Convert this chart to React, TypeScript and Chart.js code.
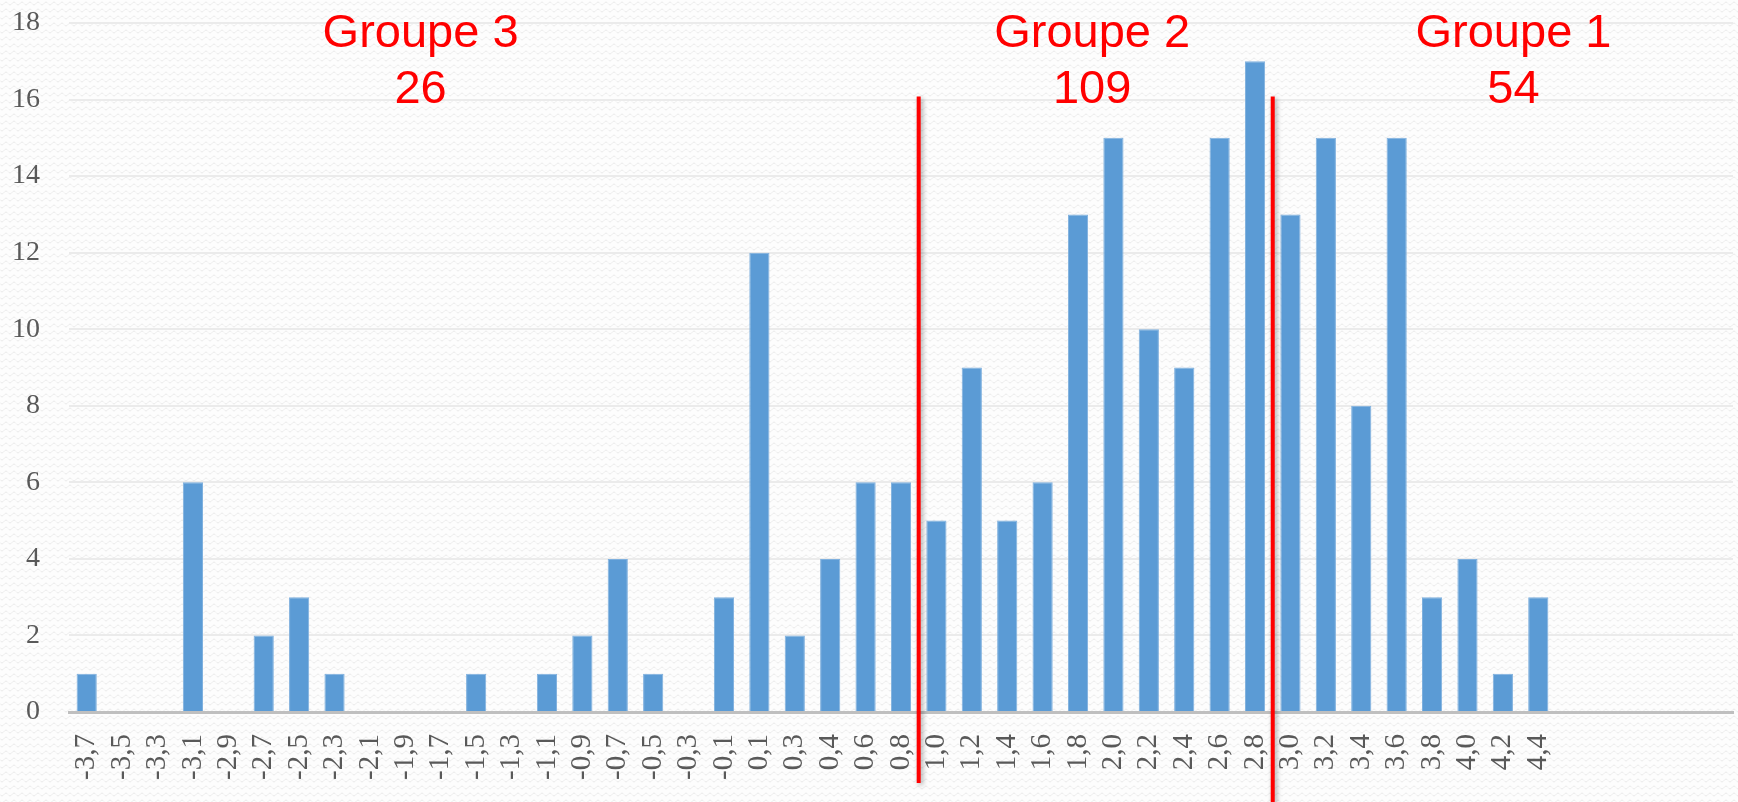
import React, { useEffect, useRef } from "react";
import { Chart, registerables } from "chart.js";

Chart.register(...registerables);

const categories = [
  "-3,7", "-3,5", "-3,3", "-3,1", "-2,9", "-2,7", "-2,5", "-2,3", "-2,1", "-1,9",
  "-1,7", "-1,5", "-1,3", "-1,1", "-0,9", "-0,7", "-0,5", "-0,3", "-0,1", "0,1",
  "0,3", "0,4", "0,6", "0,8", "1,0", "1,2", "1,4", "1,6", "1,8", "2,0",
  "2,2", "2,4", "2,6", "2,8", "3,0", "3,2", "3,4", "3,6", "3,8", "4,0",
  "4,2", "4,4", "", "", "", "", "",
];

const counts: (number | null)[] = [
  1, 0, 0, 6, 0, 2, 3, 1, 0, 0,
  0, 1, 0, 1, 2, 4, 1, 0, 3, 12,
  2, 4, 6, 6, 5, 9, 5, 6, 13, 15,
  10, 9, 15, 17, 13, 15, 8, 15, 3, 4,
  1, 3, null, null, null, null, null,
];

const yMax = 18;
const yStep = 2;

const groupNames = ["Groupe 3", "Groupe 2", "Groupe 1"];
const groupTotals = ["26", "109", "54"];
// category-index positions of the group labels
const groupCenters = [9.43, 28.4, 40.3];
// dividers sit on category boundaries
const dividerPositions = [23.5, 33.5];
const dividerTopValue = 16.08;

function makeBackgroundPattern(ctx: CanvasRenderingContext2D) {
  const tile = document.createElement("canvas");
  tile.width = 8;
  tile.height = 7;
  const t = tile.getContext("2d")!;
  t.fillStyle = "#fdfdfd";
  t.fillRect(0, 0, 8, 7);
  t.strokeStyle = "#ebebeb";
  t.lineWidth = 1;
  t.beginPath();
  for (let i = 0; i <= 8; i++) {
    const y = 3.5 + 1.5 * Math.sin((i / 8) * Math.PI * 2);
    if (i === 0) t.moveTo(i, y);
    else t.lineTo(i, y);
  }
  t.stroke();
  return ctx.createPattern(tile, "repeat");
}

export default function App() {
  const canvasRef = useRef<HTMLCanvasElement | null>(null);

  useEffect(() => {
    document.body.style.margin = "0";
    const canvas = canvasRef.current;
    if (!canvas) return;

    const bgPlugin = {
      id: "bg",
      beforeDraw(chart: any) {
        const { ctx } = chart;
        ctx.save();
        ctx.fillStyle = makeBackgroundPattern(ctx) || "#fbfbfb";
        ctx.fillRect(0, 0, chart.width, chart.height);
        ctx.restore();
      },
    };

    const annotPlugin = {
      id: "annot",
      afterDraw(chart: any) {
        const { ctx } = chart;
        const xs = chart.scales.x;
        const ys = chart.scales.y;
        ctx.save();
        dividerPositions.forEach((p, i) => {
          const x = xs.getPixelForValue(p);
          const top = ys.getPixelForValue(dividerTopValue);
          const bottom = i === 0 ? chart.height - 19 : chart.height;
          ctx.save();
          ctx.shadowColor = "rgba(0,0,0,0.35)";
          ctx.shadowBlur = 5;
          ctx.shadowOffsetX = 2;
          ctx.shadowOffsetY = 2;
          ctx.strokeStyle = "#ff0000";
          ctx.lineWidth = 4;
          ctx.beginPath();
          ctx.moveTo(x, top);
          ctx.lineTo(x, bottom);
          ctx.stroke();
          ctx.restore();
        });
        ctx.fillStyle = "#ff0000";
        ctx.font = '47px "Liberation Sans", Arial, sans-serif';
        ctx.textAlign = "center";
        ctx.textBaseline = "alphabetic";
        groupNames.forEach((name, i) => {
          const x = xs.getPixelForValue(groupCenters[i]);
          ctx.fillText(name, x, ys.getPixelForValue(17.37));
          ctx.fillText(groupTotals[i], x, ys.getPixelForValue(15.9));
        });
        ctx.restore();
      },
    };

    const yFont = { family: '"Liberation Serif", "DejaVu Serif", serif', size: 28 };
    const xFont = { family: '"Liberation Serif", "DejaVu Serif", serif', size: 29 };

    const chart = new Chart(canvas, {
      type: "bar",
      data: {
        labels: categories,
        datasets: [
          {
            data: counts,
            backgroundColor: "#5b9bd5",
            borderColor: "#7fb0de",
            borderWidth: 1,
            barPercentage: 0.57,
            categoryPercentage: 1,
          },
        ],
      },
      options: {
        animation: false,
        responsive: false,
        maintainAspectRatio: false,
        layout: { padding: { left: 0, right: 5, top: 23, bottom: 0 } },
        plugins: {
          legend: { display: false },
          tooltip: { enabled: false },
          title: { display: false },
        },
        scales: {
          x: {
            grid: { display: false, drawTicks: false },
            border: { display: true, color: "#bfbfbf", width: 3 },
            ticks: {
              autoSkip: false,
              maxRotation: 90,
              minRotation: 90,
              padding: 22,
              color: "#595959",
              font: xFont,
            },
            afterFit(scale: any) {
              scale.height = 90;
              scale.paddingLeft = 0;
              scale.paddingRight = 0;
            },
          },
          y: {
            min: 0,
            max: yMax,
            grid: { color: "#ebebeb", lineWidth: 2, drawTicks: false },
            border: { display: false },
            ticks: {
              stepSize: yStep,
              padding: 29,
              color: "#595959",
              font: yFont,
            },
            afterFit(scale: any) {
              scale.width = 69;
              scale.paddingTop = 0;
              scale.paddingBottom = 0;
            },
          },
        },
      },
      plugins: [bgPlugin, annotPlugin],
    });

    return () => chart.destroy();
  }, []);

  return (
    <div style={{ width: 1738, height: 802 }}>
      <canvas ref={canvasRef} width={1738} height={802} style={{ display: "block" }} />
    </div>
  );
}
